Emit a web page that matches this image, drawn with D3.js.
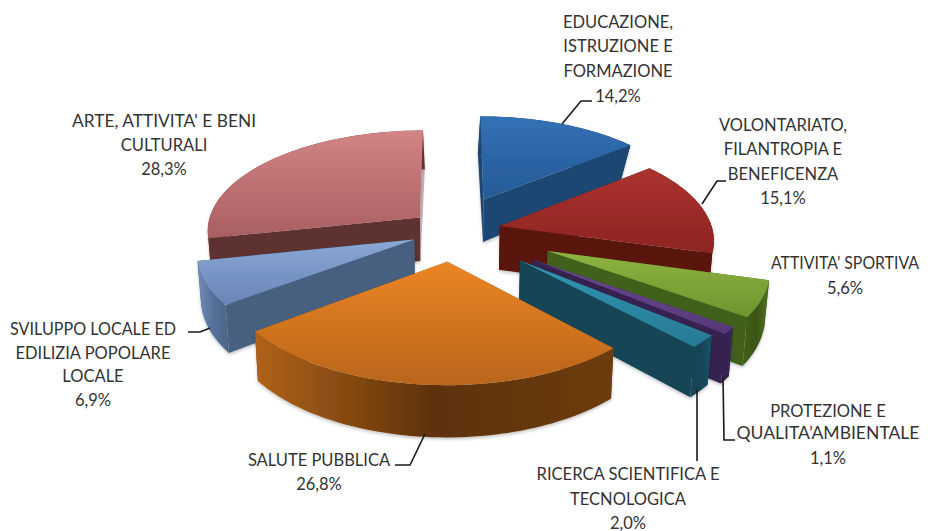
<!DOCTYPE html>
<html><head><meta charset="utf-8">
<style>html,body{margin:0;padding:0;background:#fff}svg{display:block}text{font-family:Lato,"Open Sans",sans-serif;font-size:16.5px;fill:#333;text-anchor:middle}</style>
<script src="https://cdn.jsdelivr.net/npm/d3@7/dist/d3.min.js"></script>
</head><body><svg id="c" width="934" height="531"></svg>
<script>
// Data
const categories = ["EDUCAZIONE, ISTRUZIONE E FORMAZIONE","VOLONTARIATO, FILANTROPIA E BENEFICENZA","ATTIVITA’ SPORTIVA","PROTEZIONE E QUALITA’AMBIENTALE","RICERCA SCIENTIFICA E TECNOLOGICA","SALUTE PUBBLICA","SVILUPPO LOCALE ED EDILIZIA POPOLARE LOCALE","ARTE, ATTIVITA' E BENI CULTURALI"];
const values = [14.2,15.1,5.6,1.1,2.0,26.8,6.9,28.3];
const valueLabels = ["14,2%","15,1%","5,6%","1,1%","2,0%","26,8%","6,9%","28,3%"];
// Style and layout
const explode = [0.35,0.245,0.51,0.49,0.456,0.32,0.19,0.175];
const nudges = [[2.5,0],[-1,1],[-3,-1.5],[-3,-1.5],[-3.5,-2],[3.5,-1.5],[1.5,1.5],[-1.5,-1.5]];
const paintOrder = [7,0,1,6,2,3,4,5];
const topColors = [["#3371b5","#255a97"],["#ab3230","#8e2422"],["#8cb43f","#6f9430"],["#6a4a92","#553878"],["#3295b0","#277a94"],["#ec8524","#b9651a"],["#8aa8d6","#6885b5"],["#d38484","#a95f62"]];
const cutColors = ["#1e4672","#5a1410","#41601a","#35214f","#124556","#7a4510","#47607f","#5e3232"];
const outerColors = [["#1e4672","#1e4672","#1e4672"],["#5a1410","#5a1410","#5a1410"],["#41601a","#3b5616","#4f7020"],["#35214f","#35214f","#3d2759"],["#124556","#124556","#175466"],["#b0621a","#5e3208","#6c3c0e"],["#708db8","#54709a","#4b6486"],["#5e3232","#5e3232","#5e3232"]];
const hiddenWallOpacity = [1,1,1,1,1,1,1,0.35];
const labelLines = [
 {x:618,ys:[22,46,71,96],t:["EDUCAZIONE,","ISTRUZIONE E","FORMAZIONE"]},
 {x:783,ys:[125,149,174,198],t:["VOLONTARIATO,","FILANTROPIA E","BENEFICENZA"]},
 {x:845,ys:[263,288],t:["ATTIVITA’ SPORTIVA"],w:[148]},
 {x:828,ys:[411,433,458],t:["PROTEZIONE E","QUALITA’AMBIENTALE"],w:[0,183]},
 {x:628,ys:[474,499,523],t:["RICERCA SCIENTIFICA E","TECNOLOGICA"],w:[183]},
 {x:319,ys:[460,484],t:["SALUTE PUBBLICA"]},
 {x:93,ys:[329,353,376,400],t:["SVILUPPO LOCALE ED","EDILIZIA POPOLARE","LOCALE"],w:[166]},
 {x:164,ys:[121,145,169],t:["ARTE, ATTIVITA' E BENI","CULTURALI"],w:[184]}
];
const leaders = [
 [[562,124],[581,101],[592,101]],
 [[702,204],[717,181],[726,181]],
 null,
 [[723,377],[724,440],[735,440]],
 [[697,390],[697,461]],
 [[425,434],[410,465],[395,465]],
 [[210,328],[200,332],[188,332]],
 null
];
const cx=450, cy=230, Rx=213, Ry=100, persp=0.12, height=44;

const svg=d3.select("#c"), defs=svg.append("defs");
const shadow=defs.append("filter").attr("id","sh").attr("x","-10%").attr("y","-10%").attr("width","120%").attr("height","125%");
shadow.append("feDropShadow").attr("dx",0).attr("dy",2).attr("stdDeviation",1.8).attr("flood-color","#000").attr("flood-opacity",0.22);
values.forEach((_,i)=>{
  const g=defs.append("linearGradient").attr("id","top"+i).attr("x1",0).attr("y1",0).attr("x2",0).attr("y2",1);
  g.append("stop").attr("offset",0).attr("stop-color",topColors[i][0]);
  g.append("stop").attr("offset",1).attr("stop-color",topColors[i][1]);
  const o=defs.append("linearGradient").attr("id","out"+i).attr("x1",0).attr("y1",0).attr("x2",1).attr("y2",0);
  outerColors[i].forEach((c,k)=>o.append("stop").attr("offset",k/2).attr("stop-color",c));
});
const pie=d3.pie().sort(null).value(d=>d);
const arcs=pie(values);
const line=d3.line();
// project a point of the pie plane (u right, v toward viewer); dz = 0 top, 1 bottom
function proj(u,v,dz,n){
  const s=1/(1-persp*v);
  let x=cx+Rx*u*s, y=cy+Ry*v*s;
  if(dz){ const shrink=0.985-0.07*Math.max(0,-v-0.3); x=cx+(x-cx)*shrink; y+=height*s; }
  return [x+n[0],y+n[1]];
}
function wedge(i){
  const a=arcs[i], m=(a.startAngle+a.endAngle)/2, e=explode[i];
  const ox=e*Math.sin(m), oy=-e*Math.cos(m);
  const pt=(ang,r,dz)=>proj(ox+r*Math.sin(ang),oy-r*Math.cos(ang),dz,nudges[i]);
  const angs=d3.range(0,61).map(k=>a.startAngle+(a.endAngle-a.startAngle)*k/60);
  const rim=dz=>angs.map(t=>pt(t,1,dz));
  return {a,pt,rim};
}
paintOrder.forEach(i=>{
  const w=wedge(i), a=w.a, g=svg.append("g").attr("filter","url(#sh)");
  const cut=ang=>[w.pt(ang,0,0),w.pt(ang,1,0),w.pt(ang,1,1),w.pt(ang,0,1)];
  const startFront=-Math.cos(a.startAngle-Math.PI/2)>0.001;
  const endFront=-Math.cos(a.endAngle+Math.PI/2)>0.001;
  const drawCut=(ang,op)=>g.append("path").attr("d",line(cut(ang))+"Z").attr("fill",cutColors[i]).attr("fill-opacity",op);
  if(!startFront) drawCut(a.startAngle,hiddenWallOpacity[i]);
  if(!endFront) drawCut(a.endAngle,hiddenWallOpacity[i]);
  g.append("path").attr("d",line(w.rim(0).concat(w.rim(1).reverse()))+"Z").attr("fill",`url(#out${i})`);
  if(startFront) drawCut(a.startAngle,1);
  if(endFront) drawCut(a.endAngle,1);
  g.append("path").attr("d",line([w.pt(0,0,0)].concat(w.rim(0)))+"Z").attr("fill",`url(#top${i})`);
});
leaders.forEach(p=>{ if(p) svg.append("path").attr("d",line(p)).attr("fill","none").attr("stroke","#1a1a1a").attr("stroke-width",1.6); });
labelLines.forEach((l,i)=>{
  l.t.concat([valueLabels[i]]).forEach((s,k)=>{
    const t=svg.append("text").attr("x",l.x).attr("y",l.ys[k]+5.5).text(s);
    if(l.w&&l.w[k]) t.attr("textLength",l.w[k]).attr("lengthAdjust","spacingAndGlyphs");
  });
});
</script></body></html>
